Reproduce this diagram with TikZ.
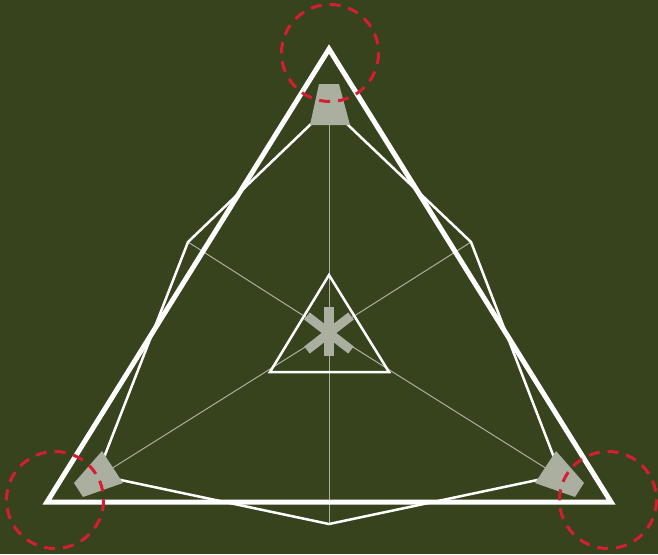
\documentclass[tikz,border=0pt]{standalone}
\definecolor{bgolive}{RGB}{55,67,29}
\definecolor{spkgray}{RGB}{170,175,160}
\definecolor{ringred}{RGB}{214,30,48}
\begin{document}
\begin{tikzpicture}[x=1pt, y=-1pt,
  room/.style={white, line width=5pt, line join=miter},
  wire/.style={white, line width=2.5pt, line join=miter},
  ray/.style={spkgray, line width=1pt},
  speaker/.style={fill=spkgray},
  ring/.style={ringred, line width=3pt, dash pattern=on 11pt off 8pt}]
  \fill[bgolive] (0,0) rectangle (658,554);
  \useasboundingbox (0,0) rectangle (658,554);

  % Points
  \coordinate (hub) at (329,332);
  \coordinate (top) at (329,104);
  \coordinate (upl) at (188,242);
  \coordinate (upr) at (471,242);
  \coordinate (low) at (329,524);
  \coordinate (spkl) at (95,479);
  \coordinate (spkr) at (563,479);

  % Rays from the middle
  \foreach \p in {top, upl, upr, low, spkl, spkr}
    \draw[ray] (hub) -- (\p);

  % Hexagon
  \draw[wire] (347,124) -- (upr) -- (555,460);
  \draw[wire] (542,479) -- (low) -- (116,479);
  \draw[wire] (103,460) -- (upl) -- (311,124);

  % Inner triangle
  \draw[wire] (329,275) -- (270,372) -- (389,372) -- cycle;

  % Room
  \draw[room] (329,49) coordinate (apex) -- (47,502) coordinate (cornl)
    -- (611,502) coordinate (cornr) -- cycle;

  % Speakers
  \fill[speaker] (319,84) -- (339,84) -- (350,125) -- (310,125) -- cycle;
  \fill[speaker] (102,451) -- (123,483) -- (83,497) -- (74,483) -- cycle;
  \fill[speaker] (556,451) -- (535,483) -- (575,497) -- (584,483) -- cycle;

  % Listener
  \draw[spkgray, line width=10pt] (329,307) -- (329,356);
  \draw[spkgray, line width=9pt] (307,316) -- (351,350);
  \draw[spkgray, line width=9pt] (351,316) -- (307,350);

  % Corner rings
  \draw[ring] (330,53) circle (48.5);
  \draw[ring] (55,500) circle (48.5);
  \draw[ring] (608,500) circle (48.5);
\end{tikzpicture}
\end{document}
